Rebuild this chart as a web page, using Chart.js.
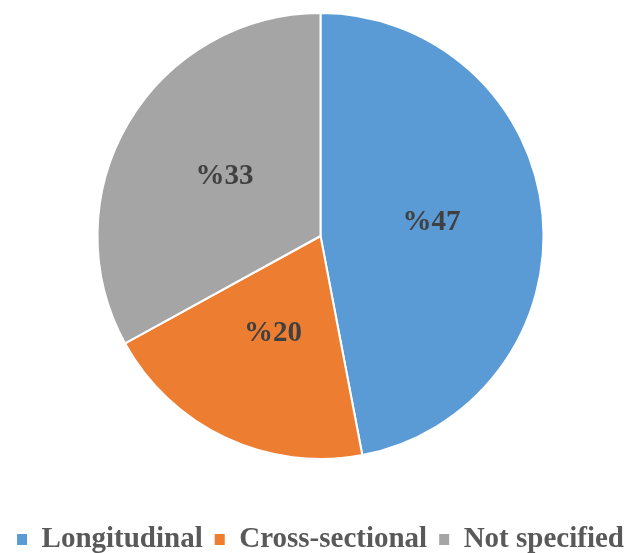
<!DOCTYPE html>
<html>
<head>
<meta charset="utf-8">
<script src="https://cdn.jsdelivr.net/npm/chart.js@4.4.1/dist/chart.umd.min.js"></script>
<style>
  html, body { margin: 0; padding: 0; background: #fff; overflow: hidden; }
  #wrap { width: 637px; height: 564px; }
</style>
</head>
<body>
<div id="wrap"><canvas id="studyDesign"></canvas></div>
<script>
const categories = ['Longitudinal', 'Cross-sectional', 'Not specified'];
const shares = [47, 20, 33];
const sliceColors = ['#5B9BD5', '#ED7D31', '#A5A5A5'];

// percent label written in the middle of each slice
const sliceLabels = {
    id: 'sliceLabels',
    afterDatasetsDraw(chart) {
        const ctx = chart.ctx;
        const meta = chart.getDatasetMeta(0);
        ctx.save();
        ctx.font = 'bold 29px "Liberation Serif", "Times New Roman", serif';
        ctx.fillStyle = '#404040';
        ctx.textAlign = 'center';
        ctx.textBaseline = 'middle';
        meta.data.forEach((arc, i) => {
            const p = arc.tooltipPosition();
            ctx.fillText('%' + shares[i], p.x, p.y - 3);
        });
        ctx.restore();
    }
};

const ctx = document.getElementById('studyDesign').getContext('2d');
new Chart(ctx, {
    type: 'pie',
    data: {
        labels: categories,
        datasets: [{
            data: shares,
            backgroundColor: sliceColors,
            borderColor: '#ffffff',
            borderWidth: 2
        }]
    },
    options: {
        responsive: true,
        maintainAspectRatio: false,
        animation: false,
        layout: { padding: { top: 12, left: 4, right: 0, bottom: 0 } },
        plugins: {
            tooltip: { enabled: false },
            legend: {
                position: 'bottom',
                title: { display: true, text: '', font: { size: 10 }, padding: { top: 41, bottom: 0 } },
                labels: {
                    boxWidth: 10,
                    boxHeight: 11,
                    padding: 12,
                    color: '#595959',
                    font: { family: '"Liberation Serif", "Times New Roman", serif', size: 29, weight: 'bold' },
                    generateLabels(chart) {
                        const items = Chart.overrides.pie.plugins.legend.labels.generateLabels(chart);
                        items.forEach(it => { it.lineWidth = 0; });
                        return items;
                    }
                }
            }
        }
    },
    plugins: [sliceLabels]
});
</script>
</body>
</html>
